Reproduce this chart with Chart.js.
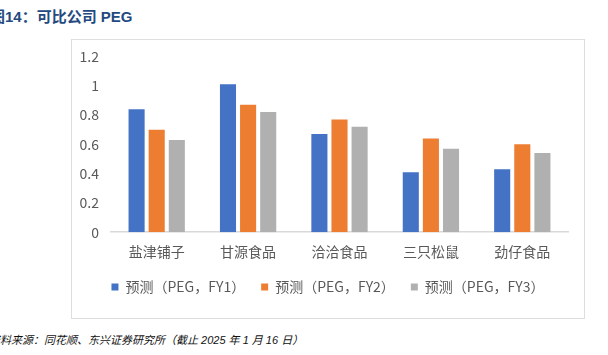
<!DOCTYPE html>
<html><head><meta charset="utf-8">
<script src="https://cdn.jsdelivr.net/npm/chart.js@4"></script>
<style>
html,body{margin:0;padding:0;background:#fff;width:608px;height:355px;overflow:hidden;position:relative;font-family:"Noto Sans CJK SC","Noto Sans",sans-serif;}
#title{position:absolute;left:-10px;top:5px;font-size:15px;font-weight:bold;color:#24497F;white-space:nowrap;font-family:"Liberation Sans","Noto Sans CJK SC",sans-serif;}
#box{position:absolute;left:71px;top:39px;width:512px;height:278px;border:1px solid #dedede;}
#c{position:absolute;left:0;top:-4px;}
#footer{position:absolute;left:-11px;top:331px;font-size:11px;font-style:italic;color:#111;white-space:nowrap;font-family:"Liberation Sans","Noto Sans CJK SC",sans-serif;}
</style></head><body>
<div id="title">图14：可比公司 PEG</div>
<div id="box"><canvas id="c" width="512" height="282"></canvas></div>
<div id="footer">资料来源：同花顺、东兴证券研究所（截止 2025 年 1 月 16 日）</div>
<script>
const categories = ["盐津铺子","甘源食品","洽洽食品","三只松鼠","劲仔食品"];
const seriesNames = ["预测（PEG，FY1）","预测（PEG，FY2）","预测（PEG，FY3）"];
const fy1 = [0.84, 1.01, 0.67, 0.41, 0.43];
const fy2 = [0.70, 0.87, 0.77, 0.64, 0.60];
const fy3 = [0.63, 0.82, 0.72, 0.57, 0.54];
const yTicks = [0, 0.2, 0.4, 0.6, 0.8, 1, 1.2];

const colors = ["#4472C4","#ED7D31","#B0B0B0"];
const font = "'Noto Sans CJK SC','Noto Sans',sans-serif";
new Chart(document.getElementById('c'), {
  type: 'bar',
  data: {
    labels: categories,
    datasets: [fy1, fy2, fy3].map((d, i) => ({
      label: seriesNames[i], data: d, backgroundColor: colors[i],
      barPercentage: 0.8, categoryPercentage: 0.66
    }))
  },
  options: {
    responsive: false, animation: false, devicePixelRatio: 1,
    layout: { padding: { left: 0, right: 0, top: 0, bottom: 14 } },
    plugins: {
      tooltip: { enabled: false },
      legend: {
        position: 'bottom',
        labels: { boxWidth: 7, boxHeight: 7, padding: 16, color: '#595959',
                  font: { family: font, size: 14 } }
      }
    },
    scales: {
      x: {
        grid: { display: false, drawTicks: false },
        border: { display: true, color: '#d9d9d9', width: 1.5 },
        ticks: { color: '#595959', padding: 11, font: { family: font, size: 14 } },
        afterFit: s => { s.height -= 7; }
      },
      y: {
        min: 0, max: 1.2,
        afterBuildTicks: s => { s.ticks = yTicks.map(v => ({ value: v })); },
        afterFit: s => { s.width = 39; },
        grid: { display: false, drawTicks: false },
        border: { display: false },
        ticks: { color: '#595959', padding: 12, font: { family: font, size: 14 },
                 callback: v => String(+(+v).toFixed(1)) }
      },
      yr: {
        type: 'linear', position: 'right', display: true,
        grid: { display: false, drawTicks: false },
        border: { display: false },
        ticks: { display: false },
        afterFit: s => { s.width = 16; }
      }
    }
  }
});
</script>
</body></html>
